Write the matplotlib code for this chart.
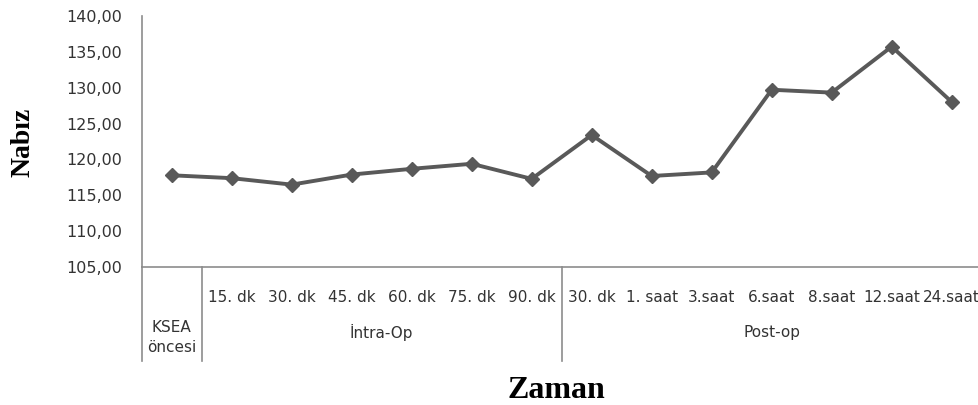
import matplotlib.pyplot as plt
from matplotlib.ticker import FuncFormatter
import numpy as np

# data
labels = ['', '15. dk', '30. dk', '45. dk', '60. dk', '75. dk', '90. dk',
          '30. dk', '1. saat', '3.saat', '6.saat', '8.saat', '12.saat', '24.saat']
nabiz = [117.8, 117.4, 116.5, 117.9, 118.7, 119.4, 117.3,
         123.4, 117.7, 118.2, 129.7, 129.3, 135.7, 128.0]
groups = ['KSEA\nöncesi', 'İntra-Op', 'Post-op']
group_start = [0, 1, 7]
group_end = [0, 6, 13]

W, H = 979, 405
fig = plt.figure(figsize=(W / 100, H / 100), dpi=100)

# axes placed in pixels: left 141.7, right 981.7, top 15.7, bottom 267.3
left, right, top, bottom = 141.7, 981.7, 15.7, 267.3
ax = fig.add_axes([left / W, 1 - bottom / H, (right - left) / W, (bottom - top) / H])

x = np.arange(len(nabiz))
ax.plot(x, nabiz, color='#595959', lw=2.8, marker='D', ms=7.5, zorder=3)

ax.set_xlim(-0.5, len(nabiz) - 0.5)
ax.set_ylim(105, 140)
ax.set_yticks(np.arange(105, 141, 5))
ax.yaxis.set_major_formatter(FuncFormatter(lambda v, p: f'{v:.2f}'.replace('.', ',')))
ax.tick_params(axis='y', length=0, pad=14, labelsize=11.5, labelcolor='#333333')

ax.set_xticks(x)
ax.set_xticklabels(labels)
ax.tick_params(axis='x', length=0, pad=16, labelsize=11, labelcolor='#333333')

for s in ['top', 'right']:
    ax.spines[s].set_visible(False)
for s in ['left', 'bottom']:
    ax.spines[s].set_color('#8c8c8c')
    ax.spines[s].set_linewidth(1.2)

# group separators and labels under the axis
trans = ax.get_xaxis_transform()
sep_bottom = -(361 - bottom) / (bottom - top)
for xs in [-0.5, 0.5, 6.5]:
    ax.plot([xs, xs], [0, sep_bottom], color='#8c8c8c', lw=1.2,
            transform=trans, clip_on=False)

for g, a, b in zip(groups, group_start, group_end):
    cx = (a + b) / 2
    if '\n' in g:
        yc = -(337.5 - bottom) / (bottom - top)
    else:
        yc = -(332 - bottom) / (bottom - top)
    ax.text(cx, yc, g, transform=trans, ha='center', va='center',
            fontsize=11, color='#333333', linespacing=1.35)

fig.text(23 / W, 1 - 142 / H, 'Nabız', rotation=90, ha='center', va='center',
         fontfamily='Liberation Serif', fontweight='bold', fontsize=20)
fig.text(556 / W, 1 - 391 / H, 'Zaman', ha='center', va='center',
         fontfamily='Liberation Serif', fontweight='bold', fontsize=23)

fig.savefig('out.png', dpi=100)
